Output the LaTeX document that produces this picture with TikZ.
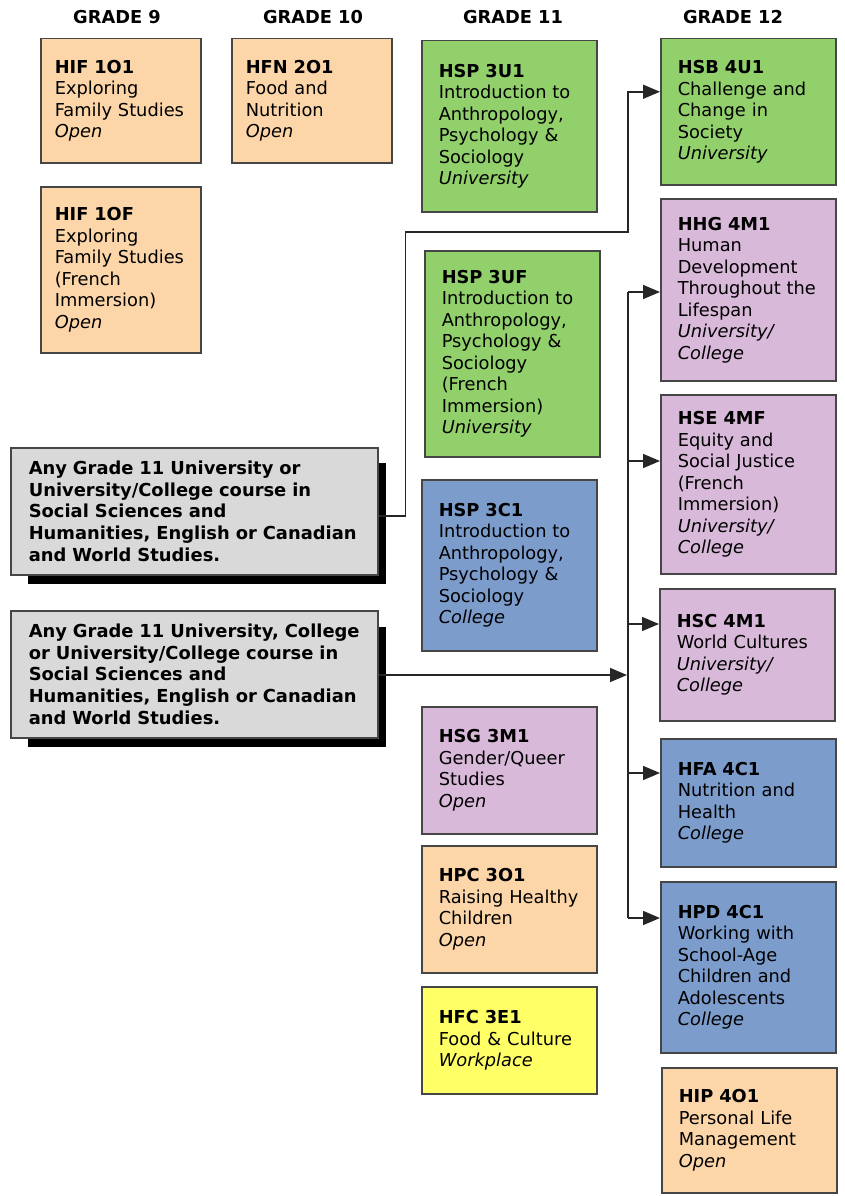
\documentclass[tikz,border=0pt]{standalone}
\usepackage{fontspec}
\setmainfont{DejaVu Sans}
\usetikzlibrary{arrows.meta}
\definecolor{peach}{RGB}{252,214,168}
\definecolor{leaf}{RGB}{146,208,108}
\definecolor{lilac}{RGB}{217,185,217}
\definecolor{steel}{RGB}{124,156,204}
\definecolor{lemon}{RGB}{255,255,102}
\definecolor{ash}{RGB}{217,217,217}
\definecolor{rim}{RGB}{70,70,70}

\begin{document}
\begin{tikzpicture}[x=1pt, y=-1pt, > = {Triangle[length=17pt, width=14pt]},
    course/.style = {draw=rim, line width=1.5pt, anchor=north west, align=left,
      inner ysep=0pt, font=\fontsize{17.8}{21.5}\selectfont},
    narrow/.style = {course, inner xsep=14pt, minimum width=160pt, text width=132pt},
    wide/.style = {course, inner xsep=17pt, minimum width=175pt, text width=141pt},
    prereq/.style = {course, fill=ash, inner xsep=18pt, minimum width=367pt,
      text width=331pt, minimum height=127pt, font=\fontsize{17.9}{21.7}\selectfont\bfseries},
    grade/.style = {font=\fontsize{17.8}{21}\selectfont\bfseries},
    link/.style = {draw=black!85, line width=1.6pt}]
  \useasboundingbox (0,0) rectangle (844,1196);
  \node[grade] (g9) at (117,17) {GRADE 9};
  \node[grade] (g10) at (313,17) {GRADE 10};
  \node[grade] (g11) at (513,17) {GRADE 11};
  \node[grade] (g12) at (733,17) {GRADE 12};
  % grade 9 and 10
  \node[narrow, fill=peach, minimum height=124pt] (hif1o1) at (40,38)
    {\textbf{HIF 1O1}\\Exploring\\Family Studies\\\textit{Open}};
  \node[narrow, fill=peach, minimum height=124pt] (hfn2o1) at (231,38)
    {\textbf{HFN 2O1}\\Food and\\Nutrition\\\textit{Open}};
  \node[narrow, fill=peach, minimum height=166pt] (hif1of) at (40,186)
    {\textbf{HIF 1OF}\\Exploring\\Family Studies\\(French\\Immersion)\\\textit{Open}};
  % grade 11
  \node[wide, fill=leaf, minimum height=171pt] (hsp3u1) at (421,40)
    {\textbf{HSP 3U1}\\Introduction to\\Anthropology,\\Psychology \&\\Sociology\\\textit{University}};
  \node[wide, fill=leaf, minimum height=206pt] (hsp3uf) at (424,250)
    {\textbf{HSP 3UF}\\Introduction to\\Anthropology,\\Psychology \&\\Sociology\\(French\\Immersion)\\\textit{University}};
  \node[wide, fill=steel, minimum height=171pt] (hsp3c1) at (421,479)
    {\textbf{HSP 3C1}\\Introduction to\\Anthropology,\\Psychology \&\\Sociology\\\textit{College}};
  \node[wide, fill=lilac, minimum height=127pt] (hsg3m1) at (421,706)
    {\textbf{HSG 3M1}\\Gender/Queer\\Studies\\\textit{Open}};
  \node[wide, fill=peach, minimum height=127pt] (hpc3o1) at (421,845)
    {\textbf{HPC 3O1}\\Raising Healthy\\Children\\\textit{Open}};
  \node[wide, fill=lemon, minimum height=107pt] (hfc3e1) at (421,986)
    {\textbf{HFC 3E1}\\Food \& Culture\\\textit{Workplace}};
  % grade 12
  \node[wide, fill=leaf, minimum height=146pt] (hsb4u1) at (660,38)
    {\textbf{HSB 4U1}\\Challenge and\\Change in\\Society\\\textit{University}};
  \node[wide, fill=lilac, minimum height=182pt] (hhg4m1) at (660,198)
    {\textbf{HHG 4M1}\\Human\\Development\\Throughout the\\Lifespan\\\textit{University/}\\\textit{College}};
  \node[wide, fill=lilac, minimum height=179pt] (hse4mf) at (660,394)
    {\textbf{HSE 4MF}\\Equity and\\Social Justice\\(French\\Immersion)\\\textit{University/}\\\textit{College}};
  \node[wide, fill=lilac, minimum height=132pt] (hsc4m1) at (659,588)
    {\textbf{HSC 4M1}\\World Cultures\\\textit{University/}\\\textit{College}};
  \node[wide, fill=steel, minimum height=128pt] (hfa4c1) at (660,738)
    {\textbf{HFA 4C1}\\Nutrition and\\Health\\\textit{College}};
  \node[wide, fill=steel, minimum height=171pt] (hpd4c1) at (660,881)
    {\textbf{HPD 4C1}\\Working with\\School-Age\\Children and\\Adolescents\\\textit{College}};
  \node[wide, fill=peach, minimum height=125pt] (hip4o1) at (661,1067)
    {\textbf{HIP 4O1}\\Personal Life\\Management\\\textit{Open}};
  % prerequisite boxes with shadows
  \fill (28,463) rectangle (386,584);
  \fill (28,627) rectangle (386,747);
  \node[prereq] (anyU) at (10,447)
    {Any Grade 11 University or\\University/College course in\\Social Sciences and\\Humanities, English or Canadian\\and World Studies.};
  \node[prereq] (anyC) at (10,610)
    {Any Grade 11 University, College\\or University/College course in\\Social Sciences and\\Humanities, English or Canadian\\and World Studies.};
  % connectors
  \coordinate (hub) at (628,675);
  \draw[link, ->] ([yshift=-5pt]anyU.east) -- ++(27,0) |- (628,232) |- ([yshift=20pt]hsb4u1.west);
  \draw[link] (628,292) -- (628,918);
  \draw[link, ->, shorten >=1pt] (anyC.east |- hub) -- (hub);
  \foreach \target/\y in {hhg4m1/292, hse4mf/461, hsc4m1/624, hfa4c1/773, hpd4c1/918}
    \draw[link, ->] (628,\y) -- (\target.west |- 0,\y);
\end{tikzpicture}
\end{document}
